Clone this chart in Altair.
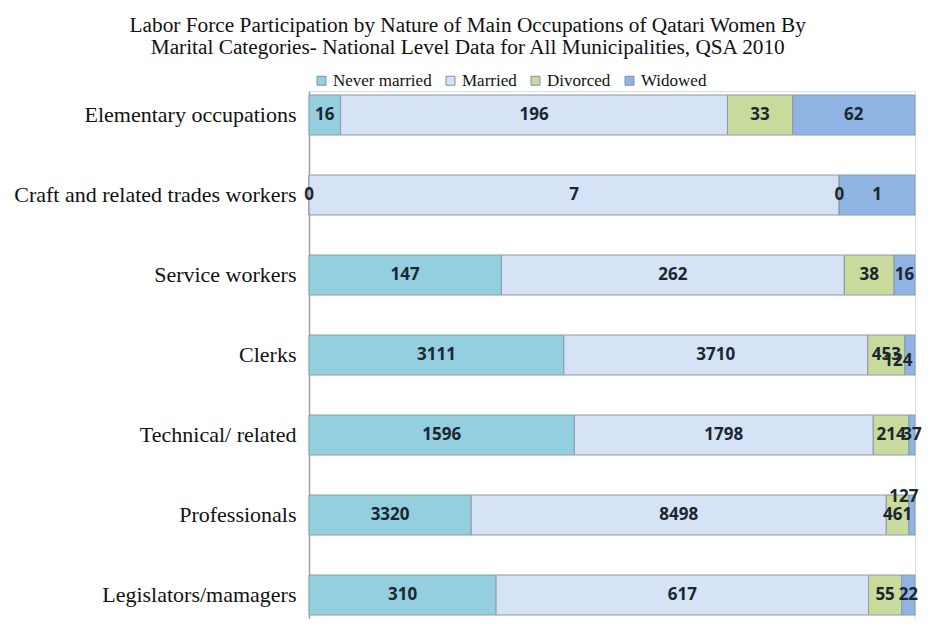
import altair as alt
import pandas as pd

occupations = ["Elementary occupations", "Craft and related trades workers", "Service workers",
               "Clerks", "Technical/ related", "Professionals", "Legislators/mamagers"]
statuses = ["Never married", "Married", "Divorced", "Widowed"]
never_married = [16, 0, 147, 3111, 1596, 3320, 310]
married = [196, 7, 262, 3710, 1798, 8498, 617]
divorced = [33, 0, 38, 453, 214, 461, 55]
widowed = [62, 1, 16, 124, 37, 127, 22]
colors = ["#93cfdf", "#d6e2f6", "#c8da9c", "#8fb4e3"]

rows = []
for i, occ in enumerate(occupations):
    for j, (st, series) in enumerate(zip(statuses, [never_married, married, divorced, widowed])):
        rows.append({"occupation": occ, "status": st, "order": j, "value": series[i]})
df = pd.DataFrame(rows)

base = alt.Chart(df).transform_stack(
    stack="value", groupby=["occupation"], as_=["v0", "v1"],
    offset="normalize", sort=[alt.SortField("order", order="ascending")]
).transform_calculate(mid="(datum.v0 + datum.v1) / 2")

yenc = alt.Y("occupation:N", sort=occupations, title=None,
             scale=alt.Scale(paddingInner=0.5, paddingOuter=0.05),
             axis=alt.Axis(labelFont="Liberation Serif", labelFontSize=22, labelColor="#111111",
                           labelPadding=13, labelLimit=400, ticks=False, domainColor="#a0a0a0",
                           domainWidth=1.5))
xenc = alt.X("v0:Q", axis=None, scale=alt.Scale(domain=[0, 1], nice=False))

bars = base.mark_bar(stroke="#8c9aa6", strokeWidth=1).encode(
    y=yenc,
    x=xenc,
    x2="v1:Q",
    color=alt.Color("status:N", scale=alt.Scale(domain=statuses, range=colors),
                    legend=alt.Legend(orient="none", legendX=4, legendY=-19, title=None,
                                      direction="horizontal",
                                      symbolType="square", symbolSize=80,
                                      symbolStrokeColor="#7f8f9f", symbolStrokeWidth=1,
                                      labelFont="Liberation Serif", labelFontSize=17,
                                      labelColor="#111111", columnPadding=10, labelOffset=3)),
)

special = "(datum.occupation == 'Professionals' && datum.status == 'Widowed') || (datum.occupation == 'Clerks' && datum.status == 'Widowed')"

labels = base.transform_filter("!(" + special + ")").mark_text(
    font="Open Sans", fontWeight="bold", fontSize=17, color="#1b2630").encode(
    y=alt.Y("occupation:N", sort=occupations),
    x=alt.X("mid:Q"),
    text=alt.Text("value:Q"),
)

labels_up = base.transform_filter("datum.occupation == 'Professionals' && datum.status == 'Widowed'").mark_text(
    font="Open Sans", fontWeight="bold", fontSize=17, color="#1b2630", dy=-18, dx=-8).encode(
    y=alt.Y("occupation:N", sort=occupations),
    x=alt.X("mid:Q"),
    text=alt.Text("value:Q"),
)

labels_down = base.transform_filter("datum.occupation == 'Clerks' && datum.status == 'Widowed'").mark_text(
    font="Open Sans", fontWeight="bold", fontSize=17, color="#1b2630", dy=6, dx=-12).encode(
    y=alt.Y("occupation:N", sort=occupations),
    x=alt.X("mid:Q"),
    text=alt.Text("value:Q"),
)

chart = alt.layer(bars, labels, labels_up, labels_down).properties(
    width=606, height=528,
    padding={"top": 6, "left": 5, "right": 0, "bottom": 0},
    title=alt.TitleParams(
        text=["Labor Force Participation by Nature of Main Occupations of Qatari Women By",
              "Marital Categories- National Level Data for All Municipalities, QSA 2010"],
        font="Liberation Serif", fontSize=21.3, fontWeight="normal", color="#111111",
        anchor="middle", frame="bounds", offset=14, lineHeight=22),
).configure_view(stroke=None).configure(background="white")

chart.save("out.html", embed_options={"renderer": "svg", "actions": False})
